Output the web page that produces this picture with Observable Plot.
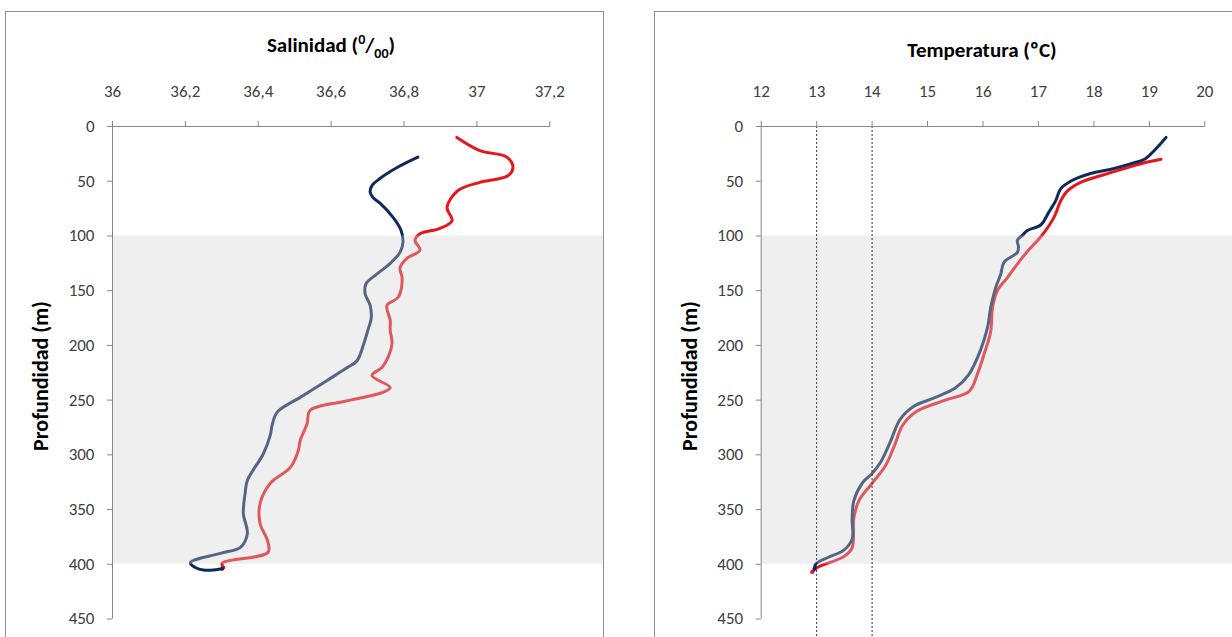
<!DOCTYPE html>
<html><head><meta charset="utf-8">
<script src="https://cdn.jsdelivr.net/npm/d3@7"></script>
<script src="https://cdn.jsdelivr.net/npm/@observablehq/plot@0.6"></script>
<style>
html,body{margin:0;padding:0;background:#fff}
body{width:1232px;height:637px;overflow:hidden;position:relative;font-family:Carlito,Lato,sans-serif}
.box{position:absolute;border:1px solid #8e8e8e;box-sizing:border-box}
.chart{position:absolute;top:0}
.title{position:absolute;font-weight:bold;font-size:21px;color:#000;transform:translate(-50%,-50%);white-space:nowrap;line-height:1}
.title sup,.title sub{font-size:14px}
.ylab{position:absolute;font-weight:bold;font-size:22px;color:#000;transform:translate(-50%,-50%) rotate(-90deg);white-space:nowrap;line-height:1}
</style></head><body>
<div class="box" style="left:5px;top:11px;width:599px;height:640px"></div>
<div class="box" style="left:654px;top:11px;width:600px;height:640px"></div>
<div id="left" class="chart" style="left:0px"></div>
<div id="right" class="chart" style="left:654px"></div>
<div class="title" style="left:331px;top:47px">Salinidad (<sup>0</sup>/<sub>00</sub>)</div>
<div class="title" style="left:982px;top:50px">Temperatura (ºC)</div>
<div class="ylab" style="left:41px;top:376px">Profundidad (m)</div>
<div class="ylab" style="left:690px;top:376px">Profundidad (m)</div>
<script>
// ---- data ----
const depthTicks = [0, 50, 100, 150, 200, 250, 300, 350, 400, 450];
const salTicks = [36, 36.2, 36.4, 36.6, 36.8, 37, 37.2];
const tempTicks = [12, 13, 14, 15, 16, 17, 18, 19, 20];
const bandDepth = [100, 400];
const refTemps = [13, 14];

const salNavyDepth = [28, 37.5, 47.5, 54, 60, 65, 70, 83, 95, 106, 115, 125, 136, 143.5, 152.5, 163.5, 175, 186, 198, 214, 221, 232, 247.5, 261, 273, 282, 299, 323.5, 335, 353.5, 372, 384.5, 390, 398.5, 403, 405.5, 404];
const salNavy = [36.838, 36.781, 36.734, 36.712, 36.707, 36.715, 36.734, 36.770, 36.792, 36.797, 36.789, 36.762, 36.721, 36.696, 36.693, 36.707, 36.710, 36.701, 36.690, 36.671, 36.641, 36.589, 36.515, 36.452, 36.438, 36.433, 36.414, 36.370, 36.364, 36.359, 36.370, 36.351, 36.296, 36.214, 36.227, 36.255, 36.301];

const salRedDepth = [10, 22, 28, 37.5, 45, 51, 58.5, 74, 86, 93, 98, 104, 113, 120.5, 129, 139, 156, 163.5, 177, 186, 198, 211, 220, 227.5, 238.5, 243, 251, 259.5, 271.5, 287, 296, 311.5, 326, 344.5, 363, 378, 389, 399, 403];
const salRed = [36.945, 37.008, 37.082, 37.099, 37.085, 37.008, 36.948, 36.918, 36.932, 36.899, 36.844, 36.830, 36.844, 36.808, 36.789, 36.795, 36.784, 36.753, 36.762, 36.762, 36.767, 36.756, 36.740, 36.712, 36.762, 36.742, 36.638, 36.542, 36.534, 36.515, 36.510, 36.488, 36.433, 36.405, 36.405, 36.425, 36.427, 36.301, 36.304];

const tempNavyDepth = [10, 30, 33, 39, 43, 50, 57, 68, 78, 90, 95, 99, 104, 110, 115, 124, 135, 147, 165, 184, 205, 227, 239, 248, 256, 268, 288, 307, 317, 326, 342, 358, 377, 387, 394, 400, 404];
const tempNavy = [19.30, 18.91, 18.73, 18.31, 17.94, 17.58, 17.40, 17.31, 17.19, 17.04, 16.80, 16.72, 16.62, 16.64, 16.62, 16.38, 16.32, 16.23, 16.14, 16.08, 15.95, 15.74, 15.50, 15.12, 14.74, 14.50, 14.33, 14.15, 14.00, 13.82, 13.67, 13.64, 13.64, 13.49, 13.19, 12.98, 12.96];

const tempRedDepth = [30, 34, 45, 51, 59, 68, 83, 101, 113, 123, 138, 150, 166, 187, 208, 226, 242, 250, 261, 273, 292, 310, 326, 342, 358, 385, 393, 403, 407];
const tempRed = [19.21, 18.85, 18.12, 17.76, 17.52, 17.40, 17.28, 17.04, 16.82, 16.66, 16.44, 16.26, 16.17, 16.14, 16.02, 15.90, 15.75, 15.32, 14.78, 14.55, 14.40, 14.24, 14.00, 13.76, 13.67, 13.64, 13.49, 13.01, 12.92];

// ---- styles ----
const NAVY = "#0f2a5a", RED = "#e8141c";
const AXIS = "#878787", TXT = "#404040";
const comma = d => String(d).replace(".", ",");

function panel({xTicks, xRange, width, marginLeft, series, extra}) {
  const last = (a) => a[a.length - 1];
  const marks = [];
  for (const s of series) {
    marks.push(Plot.line(s.depth, {x: s.vals, y: s.depth, stroke: s.color, strokeWidth: 3, curve: "catmull-rom"}));
  }
  for (const s of series) {
    marks.push(Plot.dot([0], {x: [last(s.vals)], y: [last(s.depth)], r: 2, fill: s.color, stroke: "none"}));
  }
  marks.push(Plot.rect([bandDepth], {y1: d => d[0], y2: d => d[1], fill: "#d2d2d2", fillOpacity: 0.36}));
  if (extra) marks.push(...extra);
  marks.push(Plot.ruleY([0], {x1: xTicks[0], x2: xTicks[xTicks.length - 1], stroke: AXIS, strokeWidth: 1}));
  marks.push(Plot.ruleX([xTicks[0]], {y1: depthTicks[0], y2: depthTicks[depthTicks.length - 1], stroke: AXIS, strokeWidth: 1}));
  marks.push(Plot.axisX({anchor: "top", ticks: xTicks, tickFormat: comma, tickSize: 6, tickPadding: 24, stroke: AXIS, color: TXT, fontSize: 17, label: null}));
  marks.push(Plot.axisY({anchor: "left", ticks: depthTicks, tickFormat: d => String(d), tickSize: 5, tickPadding: 13, stroke: AXIS, color: TXT, fontSize: 17, label: null}));
  return Plot.plot({
    width, height: 637,
    marginLeft, marginRight: 0, marginTop: 126, marginBottom: 0,
    style: {fontFamily: "Carlito, Lato, sans-serif", background: "transparent", overflow: "visible"},
    x: {domain: [xTicks[0], xTicks[xTicks.length - 1]], range: xRange},
    y: {domain: [depthTicks[0], depthTicks[depthTicks.length - 1]], range: [126, 618.5]},
    marks
  });
}

document.getElementById("left").append(panel({
  xTicks: salTicks, xRange: [112, 549.3], width: 603, marginLeft: 112,
  series: [
    {depth: salRedDepth, vals: salRed, color: RED},
    {depth: salNavyDepth, vals: salNavy, color: NAVY}
  ]
}));

document.getElementById("right").append(panel({
  xTicks: tempTicks, xRange: [106.7, 550.3], width: 578, marginLeft: 106.7,
  series: [
    {depth: tempRedDepth, vals: tempRed, color: RED},
    {depth: tempNavyDepth, vals: tempNavy, color: NAVY}
  ],
  extra: [
    Plot.ruleX(refTemps, {stroke: "#333", strokeWidth: 1, strokeDasharray: "2,2"}),
    Plot.ruleY([0], {x1: refTemps[0], x2: refTemps[1], stroke: "#333", strokeWidth: 1, strokeDasharray: "2,2"})
  ]
}));
</script>
</body></html>
